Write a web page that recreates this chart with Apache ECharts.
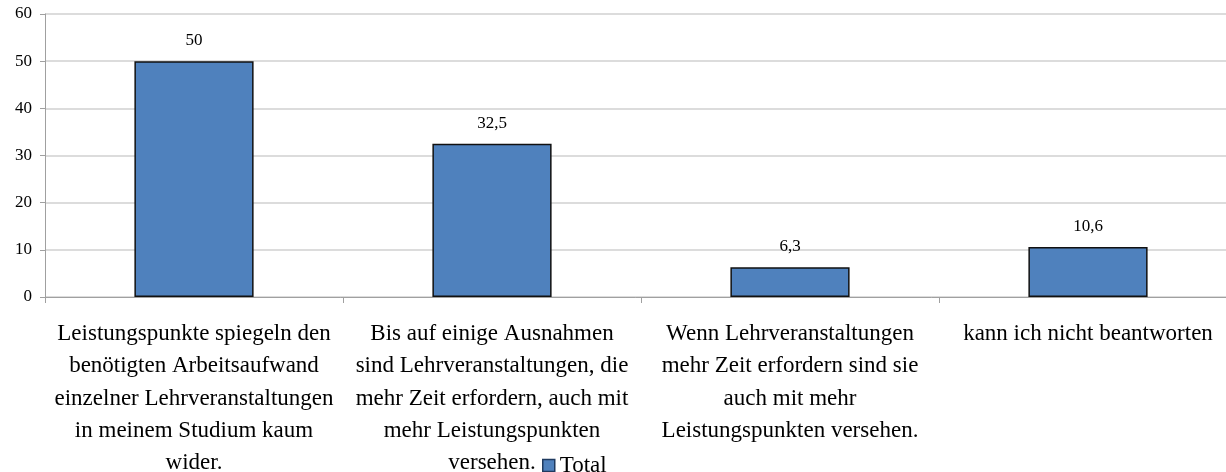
<!DOCTYPE html>
<html>
<head>
<meta charset="utf-8">
<script src="https://cdn.jsdelivr.net/npm/echarts@6/dist/echarts.min.js"></script>
<style>
html,body{margin:0;padding:0;background:#fff;}
#chart{width:1226px;height:472px;}
</style>
</head>
<body>
<div id="chart"></div>
<script>
var categories = [
  "Leistungspunkte spiegeln den\nbenötigten Arbeitsaufwand\neinzelner Lehrveranstaltungen\nin meinem Studium kaum\nwider.",
  "Bis auf einige Ausnahmen\nsind Lehrveranstaltungen, die\nmehr Zeit erfordern, auch mit\nmehr Leistungspunkten\nversehen.",
  "Wenn Lehrveranstaltungen\nmehr Zeit erfordern sind sie\nauch mit mehr\nLeistungspunkten versehen.",
  "kann ich nicht beantworten"
];
var seriesName = "Total";
var values = [50, 32.5, 6.3, 10.6];
var yMin = 0, yMax = 60, yInterval = 10;

var chart = echarts.init(document.getElementById('chart'));
var serif = "'Liberation Serif', 'Times New Roman', serif";
chart.setOption({
  animation: false,
  textStyle: { fontFamily: serif },
  grid: { left: 45, top: 14, width: 1192, height: 283, containLabel: false, outerBoundsMode: 'none' },
  legend: {
    data: [seriesName],
    left: 537, top: 449,
    icon: 'rect', itemWidth: 12, itemHeight: 12, itemGap: 4,
    itemStyle: { borderColor: '#1f3a5f', borderWidth: 1.5 },
    textStyle: { fontFamily: serif, fontSize: 23, color: '#000', padding: [0,0,0,0] }
  },
  xAxis: {
    type: 'category',
    data: categories,
    axisLine: { lineStyle: { color: '#a0a0a0', width: 1 } },
    axisTick: { show: true, length: 6, lineStyle: { color: '#a0a0a0' } },
    axisLabel: {
      interval: 0, margin: 21, color: '#000',
      fontFamily: serif, fontSize: 23, lineHeight: 32.3, align: 'center'
    }
  },
  yAxis: {
    type: 'value', min: yMin, max: yMax, interval: yInterval,
    axisLine: { show: true, lineStyle: { color: '#a0a0a0' } },
    axisTick: { show: true, length: 5, lineStyle: { color: '#a0a0a0' } },
    axisLabel: { color: '#000', fontFamily: serif, fontSize: 17, margin: 13 },
    splitLine: { lineStyle: { color: '#d0d0d0', width: 1.5 } }
  },
  series: [{
    name: seriesName,
    type: 'bar',
    data: values,
    barWidth: '40%',
    itemStyle: { color: '#4f81bd', borderColor: '#111', borderWidth: 1.5 },
    label: {
      show: true, position: 'top', distance: 12,
      color: '#000', fontFamily: serif, fontSize: 17,
      formatter: function (p) { return String(p.value).replace('.', ','); }
    }
  }]
});
</script>
</body>
</html>
